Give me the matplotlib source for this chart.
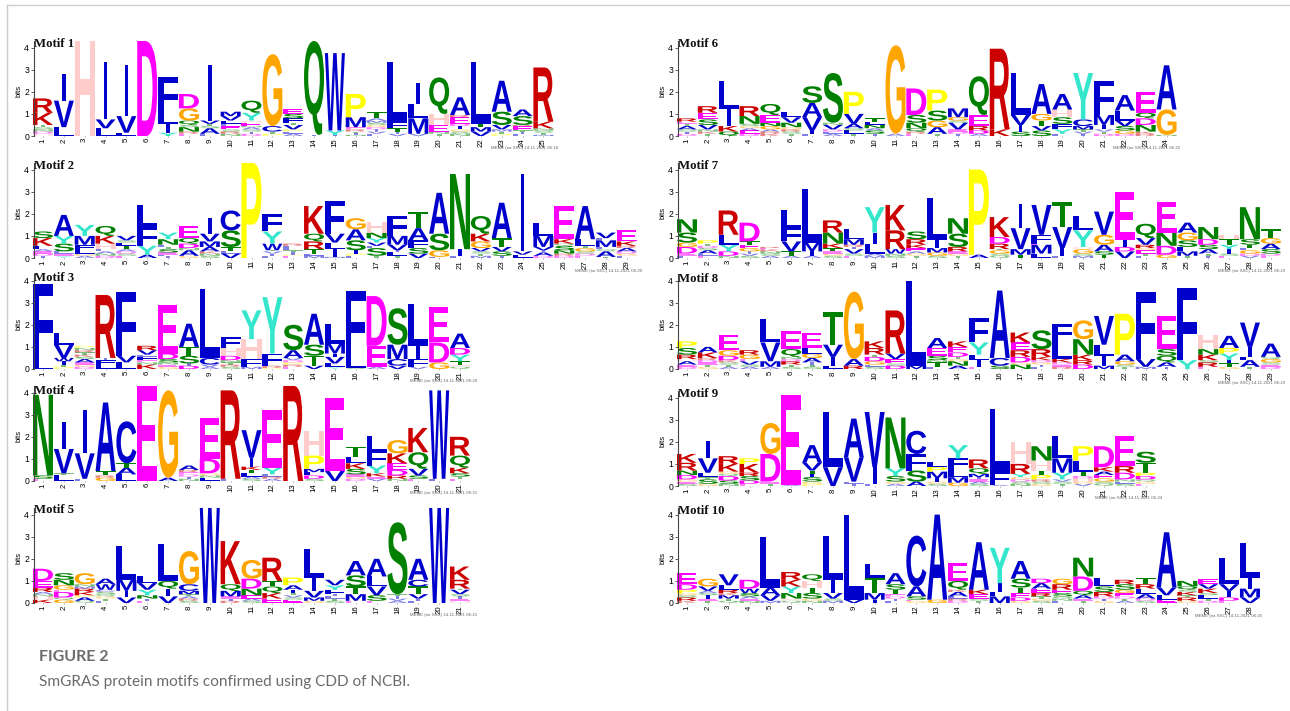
import matplotlib
matplotlib.use("Agg")
import matplotlib.pyplot as plt
from matplotlib.font_manager import FontProperties
from matplotlib.lines import Line2D
from matplotlib.patches import PathPatch
from matplotlib.textpath import TextPath
from matplotlib.transforms import Affine2D

# =============================
# DATA: one string per position, letters bottom to top with height in bits
# =============================
MOTIF_1 = ["H.1 D.1 N.1 S.1 T.1 K.55 R.65", "L.4 V1.2 I1.2", "H4.3", "L.35 V.4 I2.6", "L.15 V.75 I2.3", "D4.3",
           "Y.15 I.4 L.5 F1.6", "E.1 R.1 N.2 S.1 Q.2 G.55 D.65", "L.1 A.25 S.1 T.1 V.15 I2.5",
           "N.1 R.1 S.1 E.15 F.1 L.15 V.2 M.2", "D.1 I.1 S.1 A.1 N.05 E.15 H.1 Y.35 Q.55", "P.1 T.1 C.25 G3.25",
           "A.1 L.1 P.1 V.2 T.1 F.2 S.2 E.2", "I.05 Q4.25", "I.05 Y.2 W3.5", "N.05 I.1 T.05 R.1 E.1 M.45 P1.05",
           "L.1 V.1 I.1 D.1 G.1 S.1 M.1 A.1 T.3", "V.1 I.1 T.15 F.3 L2.7", "V.1 M.7 L.65 I.95",
           "T.1 N.1 E.3 H.5 Q1.65", "N.1 S.1 G.1 I.15 D.1 E.3 R.1 A.8", "V.2 M.2 T.15 L2.8",
           "P.1 T.1 M.1 V.2 S.6 A1.4", "L.1 I.1 T.05 E.2 R.05 S.4 A.3", "M.05 T.1 S.1 N.1 K.3 R2.45"]
MOTIF_2 = ["I.1 D.1 E.1 A.1 L.15 K.35 S.3", "Y.1 E.1 L.1 S.35 Y.35 A.95", "A.1 G.1 L.15 F.25 M.4 Y.5",
           "D.1 N.1 A.1 L.1 H.25 K.35 Q.45", "E.1 S.1 D.1 A.1 T.15 L.15 S.1 V.2", "A.15 Y.4 F.85 L1",
           "I.1 L.05 E.1 S.15 T.1 L.1 N.25 Y.3", "G.1 A.25 N.1 D.2 Q.25 E.55", "S.1 N.1 K.1 A.2 M.25 V.35 I.7",
           "V.2 L.1 T.2 S.75 C.9", "P4.3", "L.1 I.1 V.1 T.05 W.3 Y.55 F.8", "E.1 P.05 I.1 T.1 L.1 F.1 R.1",
           "M.1 L.1 T.2 R.35 Q.35 K1.25", "M.05 I.35 L.3 V.4 F1.5", "L.1 P.1 I.15 S.45 A.5 G.5",
           "T.1 S.35 L.1 V.15 Y.2 N.25 H.5", "T.1 L.15 I.1 V.25 M.4 F.9", "V.2 S.25 F.35 A.55 T.75",
           "L.05 G.3 S.75 A1.85", "L.1 I.3 N3.4", "M.1 T.1 S.1 V.15 G.3 K.35 Q.8", "I.1 S.2 V.2 T.4 A1.6",
           "L.15 V.15 I3.5", "D.1 A.15 I.1 V.15 M.5 L.6", "D.1 R.1 N.15 S.2 Q.1 K.2 E1.5",
           "E.1 D.1 S.1 G.15 T.1 L.3 A1.5", "T.05 A.25 Q.1 L.1 M.3 L.1 V.25", "L.1 G.1 D.1 A.15 R.1 K.2 E.5"]
MOTIF_3 = ["L.35 F3.5", "P.1 T.1 I.15 W.15 V.6 L.55", "D.1 G.1 E.1 A.15 S.1 K.1 T.1 R.1 N.1 P.1", "L.2 F.2 I.1 R2.85",
           "L.3 V.3 F2.9", "K.2 N.1 E.1 F.15 L.1 V.2 R.2", "G.1 E.1 N.1 S.15 D.25 E2.2", "D.15 I.1 S.35 T.4 A1.05",
           "A.1 V.1 C.3 L3.1", "S.1 R.1 T.1 N.1 D.2 H.35 F.5", "M.1 F.35 H.9 Y1.3", "P.05 R.1 F.55 Y2.55",
           "E.1 R.1 P.1 D.1 V.1 A.35 S1.15", "V.15 T.45 S.5 A1.4", "Y.1 L.15 V.3 I.15 M.45 L.9", "S.05 L.45 F3.05",
           "A.1 E.95 D2.25", "V.15 C.3 M.65 S1.65", "V.1 F.35 I.6 L1.9", "G.3 D.9 E1.6", "Q.1 H.1 T.15 Y.3 D.3 A.65"]
MOTIF_4 = ["E.1 S.15 N3.65", "L.25 T.1 V1.1 I1.2", "L.1 V1.15 I1.95", "G.15 R.1 T.2 A3.1", "L.3 A.3 T.2 C1.9", "E4.3",
           "A.15 G3.95", "N.1 I.1 D.1 E.1 R.1 A.2", "L.15 N.1 G.1 D.65 E1.85", "L.1 R4",
           "S.1 A.1 L.15 T.15 K.15 I.4 V1.25", "A.1 R.1 L.1 Y.3 E2.6", "R4.3", "S.1 D.15 L.15 M.15 P.6 H1.1",
           "V.45 E3.3", "D.1 G.1 E.1 S.25 K.25 L.3 T.45", "V.1 E.1 K.15 Y.35 F.65 L.7",
           "N.1 R.15 D.25 E.3 K.45 G.6", "E.1 S.15 V.3 Q.75 K1.1", "L.1 W4", "E.1 T.1 S.15 K.25 Q.55 R.85"]
MOTIF_5 = ["K.15 H.15 N.1 A.1 R.2 E.3 D.55", "G.15 Q.1 D.25 E.1 G.2 N.25 S.3", "Q.1 A.15 P.1 K.15 R.15 M.1 N.1 G.5",
           "L.1 T.1 G.1 Q.1 S.1 C.1 W.25 A.25", "V.25 I.3 M.5 L1.55", "E.1 I.1 N.15 Y.25 V.3 L.3", "V.3 I.35 Q.35 L1.65",
           "S.1 R.1 A.1 T.1 M.15 C.3 G1.5", "W4.3", "R.1 I.1 E.1 M.25 Q.3 K1.95", "S.1 A.1 E.15 N.3 D.45 G.85",
           "E.2 K.25 Q.3 T.25 R1.05", "E.15 S.1 V.1 T.1 I.15 A.2 P.35", "G.1 M.15 V.3 I.6 L1.3",
           "S.1 T.1 L.1 I.1 F.2 Y.2 V.25", "E.1 M.3 T.35 S.5 A.65", "E.1 S.25 V.4 L.45 A.8", "A.1 V.1 I.1 T.1 S3.25",
           "L.1 I.1 V.2 T.35 C.3 A.95", "W4.3", "H.1 E.1 I.1 S.1 V.2 T.05 R.4 K.6"]
MOTIF_6 = ["D.1 I.1 S.1 A.15 T.1 E.1 R.15", "T.1 K.1 N.1 V.2 S.25 E.3 R.3", "Q.2 K.25 I.75 L1.3",
           "D.1 E.15 A.1 G.1 S.1 N.35 R.45", "K.1 R.1 A.1 G.15 N.15 E.35 Q.5", "T.1 S.1 R.1 G.1 N.2 V.25 L.25",
           "L.1 I.15 V.6 A.65 S.75", "A.1 L.1 D.1 V.2 N.1 S2.25", "T.1 L.15 S.1 A.2 V.45 P1",
           "I.1 S.15 A.1 N.15 L.15 T.15", "A.1 G4", "E.1 R.1 Q.15 N.25 S.35 D1.2", "T.1 A.3 G.3 S.45 P.95",
           "I.1 D.1 E.1 V.3 S.1 G.15 M.4", "A.1 D.15 R.2 E.5 Q1.75", "K.3 R3.65", "S.2 I.3 V.45 L1.9",
           "S.25 V.2 T.25 G.3 A1.35", "L.1 Y.2 F.25 S.3 H.35 A.7", "I.1 V.1 T.1 M.15 C.3 Y2.1",
           "D.1 T.1 V.1 I.2 M.45 F1.55", "D.1 G.15 S.2 V.25 L.45 A.7", "R.1 K.1 N.3 D.3 Q.25 E.95", "N.05 G1.15 A2"]
MOTIF_7 = ["L.1 E.1 D.3 G.2 S.45 N.6", "E.1 L.1 A.15 S.1 D.1 T.1 P.15", "N.1 D.2 Y.3 L.45 R1.1",
           "S.1 V.1 I.1 G.15 E.15 T.15 D.85", "A.1 S.1 N.1 K.1 E.05 R.05", "A.1 T.2 V.45 F.6 L.8", "A.1 I.2 M.4 L2.4",
           "S.1 G.1 E.1 T.15 K.2 N.5 R.55", "E.1 S.1 V.2 I.1 R.1 M.25 L.45", "M.1 A.1 L.45 I.5 Y1.15",
           "S.1 N.1 W.2 R.85 K1.15", "T.1 G.1 A.1 E.15 K.15 R.25 S.35", "S.1 G.15 M.2 I.35 L1.9",
           "T.1 G.1 E.1 R.2 S.6 N.7", "A.15 P3.85", "Q.1 S.1 G.15 T.05 R.25 D.3 K.9", "T.15 M.25 V.95 I1.1",
           "L.2 M.4 E.05 F.4 V1.35", "L.1 I.35 V.95 T1.15", "M.1 S.1 G.2 H.1 Y.75 L.65", "T.15 S.15 A.3 G.45 V1.05",
           "V.3 D.2 I.3 E2.2", "L.1 T.1 E.15 G.1 R.15 V.3 Q.65", "G.15 D.4 N.6 E1.4", "T.1 M.2 L.2 S.3 G.35 A.45",
           "I.1 T.1 A.2 S.2 D.25 N.55", "E.1 S.1 I.2 Y.2 T.25 H.2", "V.1 D.1 G.15 L.1 T.15 S.25 N1.45",
           "E.1 D.1 S.2 A.25 G.25 T.4"]
MOTIF_8 = ["D.1 E.1 A.15 H.1 R.2 S.3 P.3", "G.1 T.1 E.1 D.1 R.1 K.25 A.25", "A.1 T.1 S.1 K.1 D.2 G.25 E.7",
           "A.1 S.1 V.15 E.1 G.2 R.2", "A.1 M.25 V.85 L1.05", "S.1 T.1 R.15 D.1 N.1 Q.35 E.8",
           "S.1 T.1 I.1 A.2 G.2 L.25 E.7", "L.15 I.4 V.55 T1.5", "R.15 A.3 G3.05", "S.1 L.1 G.15 D.2 T.1 R.3 K.3",
           "D.15 S.1 E.2 V.25 R1.95", "M.15 L3.85", "L.1 T.2 N.1 S.2 E.35 A.45", "A.15 N.2 G.1 T.1 D.2 E.25 K.25",
           "E.1 I.3 L.25 Y.55 F1.1", "S.15 C.35 A3.05", "N.2 G.1 D.25 R.3 E.35 K.45", "L.1 I.1 G.1 D.1 K.15 R.35 S.85",
           "R.1 E.1 D.1 K.15 L.8 F.8", "D.2 R.2 K.25 N.7 G.85", "M.15 I.45 L.5 V1.3", "T.1 S.1 G.15 A.3 P1.85",
           "M.1 V.35 F3.05", "I.1 A.2 Q.3 S.3 E1.5", "Y.4 F3.25", "E.1 R.2 S.1 K.25 N.25 H.65",
           "G.1 T.15 I.15 Y.3 P.25 A.55", "T.1 A.3 L.15 I.45 V1.1", "D.1 E.1 S.1 G.15 Q.1 A.6"]
MOTIF_9 = ["S.1 E.1 G.1 D.2 N.2 R.35 K.4", "G.1 S.2 T.1 L.2 V.65 I.8", "N.1 S.15 D.2 Q.1 G.1 K.35 R.35",
           "E.1 D.15 S.2 R.15 K.4 P.25", "T.1 E.1 D1.25 G1.4", "A.05 E4.05", "P.1 G.1 S.2 I.15 T.15 V.35 A.8", "V.85 L2.5",
           "I.1 L.1 V1.1 A1.75", "L.1 I.75 V2.5", "A.1 G.1 S.25 Y.35 N2.3", "A.2 S.5 F.75 C1.05",
           "S.1 G.1 I.15 M.3 P.2 L.25", "G.15 M.25 L.4 F.45 Y.6", "S.1 A.1 E.1 I.1 M.15 Q.25 R.4", "A.05 F.6 L2.85",
           "N.1 S.1 D.1 G.1 Y.15 R.45 H1", "G.1 S.1 R.1 P.2 T.2 H.45 N.65", "T.1 S.1 V.1 Y.3 M.65 L1",
           "V.1 G.1 H.15 D.1 T.2 L.5 P.65", "Q.1 S.1 G.15 E.15 A.15 K.2 D.95", "S.1 L.1 N.1 D.3 R.3 E1.35",
           "E.1 G.1 Q.1 D.15 P.15 T.45 S.5"]
MOTIF_10 = ["K.1 R.15 S.1 G.1 P.15 D.25 E.5", "T.1 E.1 I.15 S.1 A.1 V.2 G.35", "Q.1 T.1 M.15 K.1 R.15 L.2 V.5",
            "N.1 E.1 A.1 S.15 W.2 D.4", "M.1 V.25 A.35 L2.3", "Q.1 H.1 N.25 Y.3 K.3 R.35", "N.1 G.1 S.25 T.25 H.3 Q.3",
            "M.1 S.1 V.25 I.6 L2", "V.15 L3.85", "I.15 M.3 T.7 L.6", "L.1 I.1 D.1 E.1 T.2 S.25 A.5",
            "G.1 E.05 S.15 A.45 C2.3", "G.15 A3.85", "D.1 R.1 L.1 A.2 K.1 Q.4 E.8", "T.1 S.1 E.2 K.2 A2.15",
            "M.3 L.2 I.4 Y1.6", "G.1 D.15 E.2 T.25 S.4 A.8", "S.1 G.1 T.1 R.15 E.2 A.25 D.2",
            "L.1 N.1 Q.1 S.15 E.15 R.25 G.25", "T.1 E.1 A.15 Q.2 D.65 N.85", "G.1 I.1 D.1 R.2 S.25 L.4",
            "A.1 T.1 D.1 E.15 G.15 S.25 R.2", "S.1 D.1 A.2 L.25 R.2 T.3", "E.15 L.2 V.35 A2.5",
            "G.1 R.15 T.1 K.15 S.1 Q.15 N.25", "D.1 T.1 L.15 S.1 K.2 V.2 E.25", "E.1 D.15 I.3 V.3 L1.2",
            "V.25 M.4 I.5 L1.55"]

MOTIFS = [MOTIF_1, MOTIF_2, MOTIF_3, MOTIF_4, MOTIF_5, MOTIF_6, MOTIF_7, MOTIF_8, MOTIF_9, MOTIF_10]
STAMPS = ["06:18", "06:20", "06:20", "06:21", "06:21", "06:22", "06:23", "06:23", "06:24", "06:25"]
Y_TICKS = [0, 1, 2, 3, 4]

# =============================
# CONFIG
# =============================
W, H = 1290, 711
COL_W = 20.85
BIT_H = 22.1
TOP_BITS = 4.3
FIRST_COL_OFFSET = 9  # pixels from the y axis to the centre of column 1

# axis x, baseline y, title x, title y, stamp right x, stamp y (pixels, y down)
LAYOUT = [
    (34, 136, 34, 44, 558, 148), (34, 258, 34, 166, 642, 271), (34, 369, 34, 278, 477, 381),
    (34, 481, 34, 391, 477, 493), (34, 603, 34, 510, 477, 615),
    (678, 136, 678, 44, 1180, 148), (678, 258, 678, 166, 1285, 271), (678, 369, 678, 279, 1285, 383),
    (678, 486, 678, 394, 1162, 498), (678, 603, 678, 511, 1262, 616),
]

COLORS = {}
for letters, color in [("ACFILMVW", "#0000cc"), ("DE", "#ff00ff"), ("G", "#ffa500"), ("H", "#ffcccc"),
                       ("KR", "#cc0000"), ("NQST", "#008000"), ("P", "#ffff00"), ("Y", "#33e6cc")]:
    for letter in letters:
        COLORS[letter] = color

LETTER_FONT = FontProperties(family="Liberation Sans", weight="bold")
LETTER_PATHS = {}


def draw_letter(ax, letter, x, bottom, height):
    if letter not in LETTER_PATHS:
        path = TextPath((0, 0), letter, size=1, prop=LETTER_FONT)
        LETTER_PATHS[letter] = (path, path.get_extents())
    path, box = LETTER_PATHS[letter]
    # I stays a thin bar, every other letter fills its column
    width = 0.18 if letter == "I" else 0.96
    tr = (Affine2D()
          .translate(-box.x0, -box.y0)
          .scale(width / box.width, height / box.height)
          .translate(x - width / 2, bottom))
    # the tiniest letters wash out in the reference
    alpha = 0.5 if height < 0.12 else 1.0
    ax.add_patch(PathPatch(path, transform=tr + ax.transData, fc=COLORS[letter], ec="none",
                           lw=0, alpha=alpha, clip_on=False))


def parse_stack(text):
    return [(item[0], float(item[1:])) for item in text.split()]


def px_x(x):
    return x / W


def px_y(y):
    return 1 - y / H


# =============================
# MAIN
# =============================
fig = plt.figure(figsize=(W / 100, H / 100), dpi=100, facecolor="white")

fig.add_artist(Line2D([px_x(6.5), px_x(6.5)], [0, px_y(5)], color="#cccccc", lw=1))
fig.add_artist(Line2D([px_x(6.5), 1], [px_y(5), px_y(5)], color="#cccccc", lw=1))

for i, stacks in enumerate(MOTIFS):
    axis_x, base_y, title_x, title_y, stamp_x, stamp_y = LAYOUT[i]
    n = len(stacks)
    x0 = 1 - FIRST_COL_OFFSET / COL_W
    x1 = n + 0.5
    ax = fig.add_axes([px_x(axis_x), px_y(base_y), (x1 - x0) * COL_W / W, TOP_BITS * BIT_H / H])
    ax.set_xlim(x0, x1)
    ax.set_ylim(0, TOP_BITS)
    ax.patch.set_visible(False)

    for pos, text in enumerate(stacks, start=1):
        bottom = 0
        for letter, height in parse_stack(text):
            draw_letter(ax, letter, pos, bottom, height)
            bottom += height

    for side in ("top", "right", "bottom"):
        ax.spines[side].set_visible(False)
    ax.spines["left"].set_color("#444444")
    ax.spines["left"].set_linewidth(0.8)
    ax.set_xticks(range(1, n + 1))
    ax.set_xticklabels([str(k) for k in range(1, n + 1)], rotation=90, fontsize=5.6, family="Liberation Sans")
    ax.set_yticks(Y_TICKS)
    ax.set_yticklabels([str(k) for k in Y_TICKS], fontsize=6.2, family="Liberation Sans")
    ax.tick_params(axis="x", length=1, width=0.4, pad=0.6, color="#444444")
    ax.tick_params(axis="y", length=2.5, width=0.6, pad=1, color="#444444")
    fig.text(px_x(axis_x - 15), px_y(base_y - 45), "bits", rotation=90, fontsize=5.6, ha="center", va="center",
             family="Liberation Sans")
    fig.text(px_x(title_x), px_y(title_y), f"Motif {i + 1}", fontsize=9.2, weight="bold",
             family="Liberation Serif", ha="left", va="center", color="#111111")
    fig.text(px_x(stamp_x), px_y(stamp_y), f"MEME (no SSC) 14.11.2021 {STAMPS[i]}", fontsize=3.2,
             family="Liberation Sans", ha="right", va="center", color="#666666")

fig.text(px_x(39), px_y(657), "FIGURE 2", fontsize=11.5, weight="bold", family="Lato", color="#6b6b6b",
         ha="left", va="center")
fig.text(px_x(39), px_y(682), "SmGRAS protein motifs confirmed using CDD of NCBI.", fontsize=11.1, family="Lato",
         color="#6b6b6b", ha="left", va="center")

fig.savefig("out.png", dpi=100)
